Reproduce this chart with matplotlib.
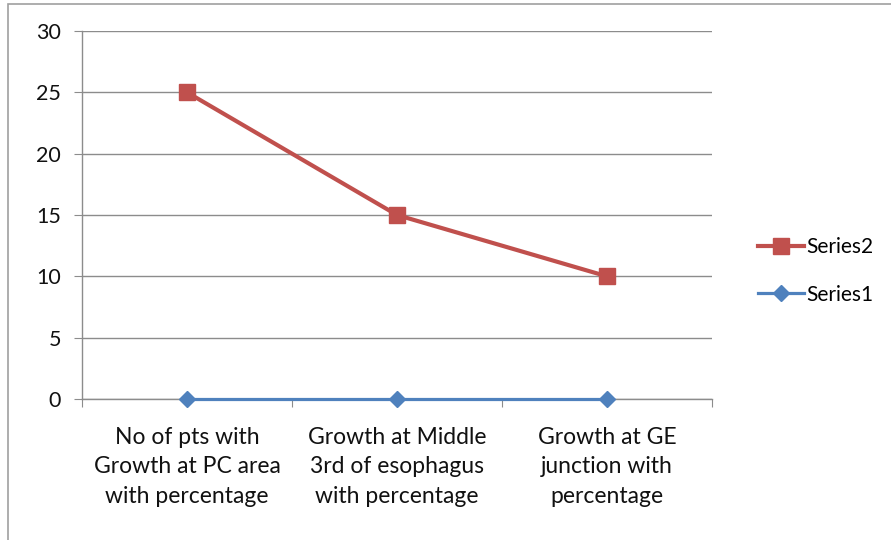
import matplotlib.pyplot as plt
from matplotlib.patches import Rectangle

categories = ["No of pts with\nGrowth at PC area\nwith percentage",
              "Growth at Middle\n3rd of esophagus\nwith percentage",
              "Growth at GE\njunction with\npercentage"]
series1 = [0, 0, 0]
series2 = [25, 15, 10]
yticks = [0, 5, 10, 15, 20, 25, 30]

plt.rcParams['font.family'] = ['Lato', 'DejaVu Sans']

W, H = 891, 540
fig = plt.figure(figsize=(W / 100, H / 100), dpi=100)
fig.patches.append(Rectangle((8 / W, -0.1), 1.2, (540 - 4) / H + 0.1,
                             transform=fig.transFigure, fill=False,
                             edgecolor='#a0a0a0', linewidth=1.2))
ax = fig.add_axes([82 / W, (540 - 399) / H, (712 - 82) / W, (399 - 31) / H])

x = list(range(len(categories)))
ax.plot(x, series2, color='#C0504D', linewidth=3, marker='s', markersize=11,
        label='Series2', zorder=3)
ax.plot(x, series1, color='#4F81BD', linewidth=2.3, marker='D', markersize=8,
        label='Series1', zorder=3, clip_on=False)

ax.set_xlim(-0.5, len(categories) - 0.5)
ax.set_ylim(0, 30)
ax.set_yticks(yticks)
ax.yaxis.grid(True, color='#8c8c8c', linewidth=1)
ax.set_axisbelow(True)
ax.set_xticks([i - 0.5 for i in range(len(categories) + 1)])
ax.set_xticklabels([])
ax.set_xticks(x, minor=True)
ax.set_xticklabels(categories, minor=True, fontsize=16.5, color='#111111',
                   linespacing=1.5)
ax.tick_params(axis='x', which='major', length=6, color='#8c8c8c', direction='out')
ax.tick_params(axis='x', which='minor', length=0, pad=20)
ax.tick_params(axis='y', length=6, color='#8c8c8c', labelsize=15.5,
               labelcolor='#111111', pad=9)
for s in ['top', 'right']:
    ax.spines[s].set_visible(False)
for s in ['left', 'bottom']:
    ax.spines[s].set_color('#8c8c8c')
    ax.spines[s].set_linewidth(1)

handles, labels = ax.get_legend_handles_labels()
fig.legend(handles, labels, loc='center left', bbox_to_anchor=(748 / W, 1 - 271 / H),
           frameon=False, fontsize=15, handlelength=2.2, handletextpad=0.1,
           labelspacing=1.3, borderpad=0)

fig.savefig('out.png', dpi=100)
